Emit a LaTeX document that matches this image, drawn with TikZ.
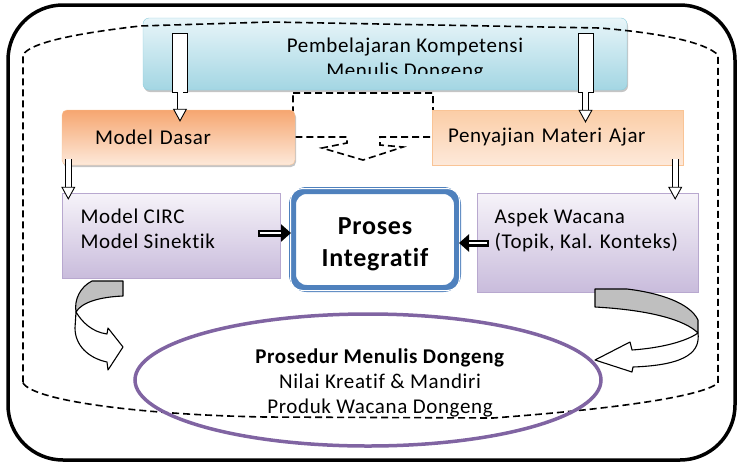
\documentclass[tikz,border=0pt]{standalone}
\usepackage{fontspec}
\setmainfont{Carlito}[LetterSpace=3, Ligatures=NoCommon]
\usepackage{tikz}
\usetikzlibrary{shapes,arrows,arrows.meta,shadows}
\definecolor{kompTop}{HTML}{E8F5F9}
\definecolor{kompBot}{HTML}{A3D6E3}
\definecolor{kompLine}{HTML}{8ECCDC}
\definecolor{dasarDark}{HTML}{F6A670}
\definecolor{dasarLight}{HTML}{FDE9DA}
\definecolor{sajiDark}{HTML}{FBCDA6}
\definecolor{sajiLine}{HTML}{F9C496}
\definecolor{ungTop}{HTML}{F6F3F9}
\definecolor{ungBot}{HTML}{C9BCDC}
\definecolor{ungLine}{HTML}{B8A8CF}
\definecolor{prosesBlue}{HTML}{4F81BD}
\definecolor{prosedurUngu}{HTML}{8064A2}
\tikzstyle{topbox}=[rectangle, draw=kompLine, top color=kompTop, bottom color=kompBot,
                    rounded corners=6pt, minimum width=484pt, minimum height=72pt,
                    inner sep=0pt, drop shadow={shadow xshift=1pt, shadow yshift=-2pt, fill=black!45}]
\tikzstyle{dasarbox}=[rectangle, draw=sajiLine, shading angle=135, top color=dasarDark,
                      bottom color=dasarLight, rounded corners=5pt, minimum height=55pt,
                      align=left, inner ysep=0pt,
                      drop shadow={shadow xshift=1pt, shadow yshift=-2pt, fill=black!45}]
\tikzstyle{sajibox}=[rectangle, draw=sajiLine, top color=sajiDark, bottom color=dasarLight,
                     minimum height=55pt, align=left, inner ysep=0pt]
\tikzstyle{ungubox}=[rectangle, draw=ungLine, top color=ungTop, bottom color=ungBot,
                     inner sep=0pt]
\tikzstyle{tailbox}=[rectangle, draw, fill=white, line width=0.9pt, minimum width=15pt,
                     minimum height=59pt, inner sep=0pt]
\tikzstyle{hollow}=[draw, double=white, double distance=5pt, line width=0.9pt,
                    -{Triangle[fill=white, length=13pt, width=14pt]}]
\tikzstyle{dblarrow}=[draw, line width=7pt, -{Triangle[length=10pt, width=17pt]},
                      postaction={draw=white, line width=1.4pt, shorten >=10pt, shorten <=1.5pt, -}]
\tikzstyle{curl}=[draw, line width=1.1pt, line join=round]
\begin{document}
\begin{tikzpicture}[x=1pt, y=-1pt, font=\fontsize{21}{25}\selectfont]
    \useasboundingbox (0,0) rectangle (739,464);
    % frame
    \draw [line width=3.5pt, rounded corners=55pt] (8,5) rectangle (735,460);
    % boxes
    \node [topbox] at (385,54) (kompetensi) {};
    \begin{scope}
      \clip (143,18) rectangle (627,73);
      \node [align=center] at (405,60) (kompText) {Pembelajaran Kompetensi\\Menulis Dongeng};
    \end{scope}
    \draw [dashed, line width=1.6pt, dash pattern=on 7pt off 4pt]
      (23,383) .. controls (35,402) and (150,415) .. (265,417) -- (493,418)
      .. controls (600,410) and (700,398) .. (718,383) -- (718,55)
      .. controls (705,42) and (660,33) .. (600,28) -- (270,22) -- (140,26)
      .. controls (80,33) and (30,42) .. (23,55) -- cycle;
    \draw [dashed, line width=1.6pt, dash pattern=on 7pt off 4pt]
      (293,93) -- (433,93) -- (433,137) -- (380,137) -- (380,145) -- (403,147)
      -- (363,160) -- (322,148) -- (347,143) -- (347,137) -- (293,137) -- cycle;
    \node [dasarbox, minimum width=233pt, text width=167pt, inner xsep=33pt] at (178.5,137.5) (dasar) {Model Dasar};
    \node [sajibox, minimum width=251pt, text width=219pt, inner xsep=16pt] at (557.5,137.5) (penyajian) {Penyajian Materi Ajar};
    \node [ungubox, minimum width=218pt, minimum height=85pt] at (171,235.5) (circ) {};
    \node [anchor=west, align=left] at (77,229) (circText) {Model CIRC\\Model Sinektik};
    \node [ungubox, minimum width=221pt, minimum height=99pt] at (587.5,242.5) (aspek) {};
    \node [anchor=west, align=left] at (491,230) (aspekText) {Aspek Wacana\\(Topik, Kal. Konteks)};
    \node [rectangle, draw=prosesBlue, fill=white, line width=7pt, rounded corners=14pt,
           minimum width=165pt, minimum height=98pt] at (375,239.5) (proses) {};
    \draw [white, line width=1pt, rounded corners=12pt]
      ([shift={(1.5pt,-1.5pt)}]proses.north west) rectangle ([shift={(-1.5pt,1.5pt)}]proses.south east);
    \node [align=center, font=\bfseries\fontsize{26}{32}\selectfont] at (375,244) (prosesText) {Proses\\Integratif};
    \node [ellipse, draw=prosedurUngu, line width=3.5pt, minimum width=466pt,
           minimum height=132pt, inner sep=0pt] at (368,380) (prosedur) {};
    \node [align=center] at (380,383) (prosedurText) {\textbf{Prosedur Menulis Dongeng}\\Nilai Kreatif \& Mandiri\\Produk Wacana Dongeng};
    % hollow arrows
    \node [tailbox] at (180,62.5) (tailA) {};
    \node [tailbox] at (585.5,62.5) (tailB) {};
    \path [hollow] (tailA.south) -- ([yshift=-12pt]dasar.north -| tailA);
    \path [hollow] (tailB.south) -- ([yshift=-13pt]penyajian.north -| tailB);
    \path [hollow] ([xshift=6.5pt,yshift=6pt]dasar.south west) -- ([xshift=6.5pt,yshift=-7pt]circ.north west);
    \path [hollow] ([xshift=-8pt,yshift=6pt]penyajian.south east) -- ([xshift=-23pt,yshift=-7pt]aspek.north east);
    % black arrows
    \path [dblarrow] ([xshift=-22pt]circ.east |- 0,233) -- ([xshift=2pt]proses.west |- 0,233);
    \path [dblarrow] ([xshift=12pt]aspek.west |- 0,243) -- ([xshift=-2pt]proses.east |- 0,243);
    % curved arrows
    \path [curl, fill=black!25] (92,281) -- (123,281) -- (123,296)
      .. controls (100,297) and (82,302) .. (76,312)
      .. controls (74,300) and (80,287) .. (92,281) -- cycle;
    \path [curl, fill=white] (76,312) .. controls (82,322) and (92,332) .. (107,334)
      -- (108,328) -- (123,347) -- (108,370) -- (107,362)
      .. controls (88,358) and (75,345) .. (75,328) -- cycle;
    \path [curl, fill=black!25] (595,289) -- (627,289)
      .. controls (660,293) and (690,303) .. (698,320) -- (698,333)
      .. controls (685,320) and (650,310) .. (595,307) -- cycle;
    \path [curl, fill=white] (698,333) .. controls (700,350) and (690,365) .. (633,367)
      -- (632,372) -- (595,360) -- (630,342) -- (632,350)
      .. controls (660,348) and (685,342) .. (698,333) -- cycle;
\end{tikzpicture}
\end{document}
